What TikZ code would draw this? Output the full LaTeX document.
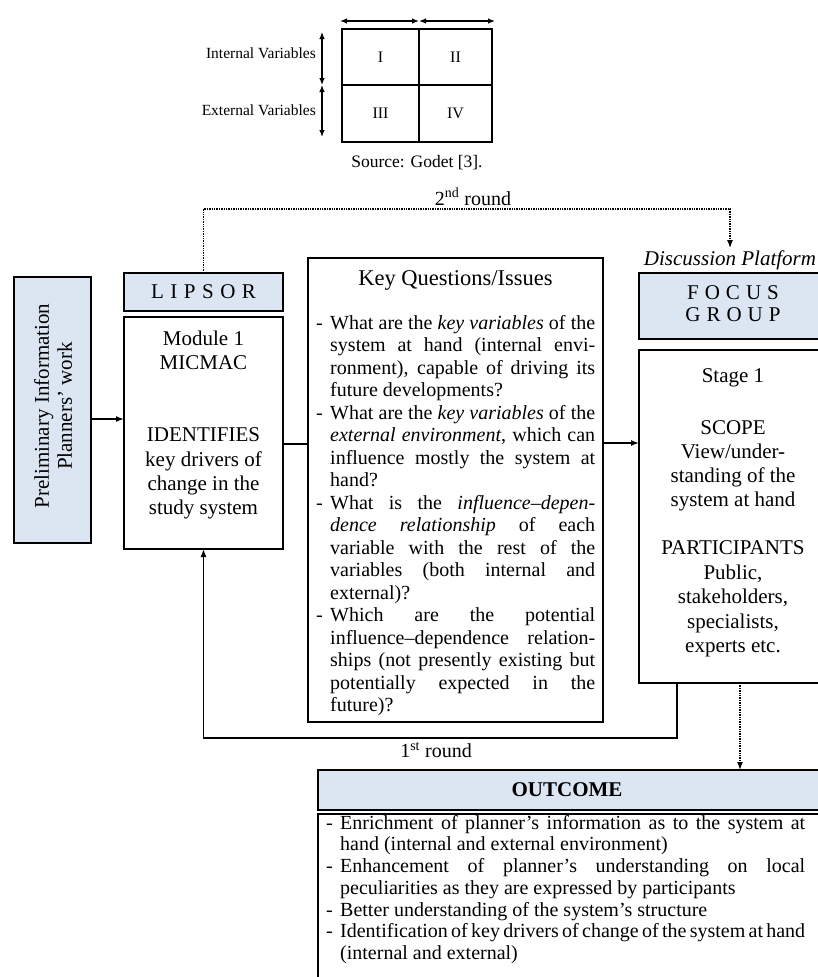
\documentclass[tikz,border=0pt]{standalone}
\usepackage{fontspec}
\setmainfont{Liberation Serif}
\usetikzlibrary{arrows.meta}

\definecolor{boxblue}{RGB}{220,230,242}

% justified question lines with a hanging dash
\newlength\qw \setlength\qw{265pt}
\newcommand\qfirst[1]{\makebox[14pt][l]{-}\makebox[\qw][s]{\strut #1}}
\newcommand\qjust[1]{\hspace*{14pt}\makebox[\qw][s]{\strut #1}}
\newcommand\qlast[1]{\hspace*{14pt}\strut #1}
% outcome list lines
\newlength\ow \setlength\ow{465pt}
\newcommand\ofirst[1]{\makebox[14pt][l]{-}\makebox[\ow][s]{\strut #1}}
\newcommand\oplain[1]{\makebox[14pt][l]{-}\strut #1}
\newcommand\olast[1]{\hspace*{14pt}\strut #1}
\newcommand\tsp{\hspace{2pt plus 1fil}}

\tikzset{
  box/.style={draw, line width=1.5pt, inner sep=0pt, outer sep=0pt, anchor=north west},
  bluebox/.style={box, fill=boxblue},
  cell/.style={draw, line width=1.3pt, inner sep=0pt, outer sep=0pt, anchor=north west,
               font=\fontsize{16}{18}\selectfont},
  txt/.style={inner sep=0pt, align=center},
  arr/.style={line width=1.5pt, -{Latex[length=8pt,width=6pt]}},
  dotarr/.style={line width=1.4pt, densely dotted, -{Latex[length=8pt,width=6pt]}},
  dbl/.style={line width=1.2pt, {Latex[length=7pt,width=5.5pt]}-{Latex[length=7pt,width=5.5pt]}},
}

\begin{document}
\begin{tikzpicture}[x=1pt,y=-1pt]
\useasboundingbox (0,0) rectangle (818,977);
\clip (0,0) rectangle (818,977);

% ---- quadrant matrix of variables ----
\node[cell, minimum width=77pt, minimum height=56pt] (q1) at (342,29) {I};
\node[cell, minimum width=73pt, minimum height=56pt] (q2) at (419,29) {II};
\node[cell, minimum width=77pt, minimum height=57pt] (q3) at (342,85) {III};
\node[cell, minimum width=73pt, minimum height=57pt] (q4) at (419,85) {IV};
\draw[dbl] ([shift={(-2pt,8pt)}]q1.north west) -- ([yshift=8pt]q1.north east);
\draw[dbl] ([yshift=8pt]q2.north west) -- ([shift={(3pt,8pt)}]q2.north east);
\draw[dbl] ([shift={(-20pt,-3pt)}]q1.north west) -- ([xshift=-20pt]q1.south west);
\draw[dbl] ([xshift=-20pt]q3.north west) -- ([shift={(-20pt,5pt)}]q3.south west);
\node[txt, anchor=east, font=\fontsize{15.5}{18}\selectfont] (intv) at (316,53) {Internal Variables};
\node[txt, anchor=east, font=\fontsize{15.5}{18}\selectfont] (extv) at (316,110) {External Variables};
\node[txt, font=\fontsize{17.5}{20}\selectfont] (src) at (417,163) {Source: Godet [3].};

% ---- main boxes ----
\node[bluebox, minimum width=77pt, minimum height=266pt] (prelim) at (14,277) {};
\node[bluebox, minimum width=159pt, minimum height=38pt] (lipsor) at (124,273) {};
\node[box, minimum width=159pt, minimum height=232pt] (module) at (124,317) {};
\node[box, minimum width=295pt, minimum height=464pt] (key) at (308,258) {};
\node[bluebox, minimum width=202pt, minimum height=66pt] (focus) at (639,273) {};
\node[box, minimum width=202pt, minimum height=333pt] (stage) at (639,350) {};
\node[bluebox, minimum width=510pt, minimum height=40pt] (outhead) at (318,770) {};
\node[box, minimum width=510pt, minimum height=200pt] (outbody) at (318,814) {};

% ---- texts ----
\node[txt, rotate=90, font=\fontsize{21}{23}\selectfont] (prelimtxt) at (53,406)
  {Preliminary Information\\Planners’ work};
\node[txt, font=\fontsize{21}{24}\selectfont] (lipsortxt) at (203.5,292)
  {L\hspace{6.5pt}I\hspace{6.5pt}P\hspace{6.5pt}S\hspace{6.5pt}O\hspace{6.5pt}R};
\node[txt, font=\fontsize{21}{23.5}\selectfont] (modtop) at (203.5,350.5) {Module 1\\MICMAC};
\node[txt, font=\fontsize{21}{24.3}\selectfont] (modtxt) at (203.5,473.5)
  {IDENTIFIES\\key drivers of\\change in the\\study system};

\node[txt, font=\fontsize{22.5}{25}\selectfont] (keytitle) at (455.5,280) {Key Questions/Issues};
\node[txt, align=left, anchor=west, font=\fontsize{20}{22.47}\selectfont] (keylist) at (316,516) {%
\qfirst{What are the \textit{key variables} of the}\\
\qjust{system at hand (internal envi-}\\
\qjust{ronment), capable of driving its}\\
\qlast{future developments?}\\
\qfirst{What are the \textit{key variables} of the}\\
\qjust{\textit{external environment}, which can}\\
\qjust{influence mostly the system at}\\
\qlast{hand?}\\
\qfirst{What is the \textit{influence–depen-}}\\
\qjust{\textit{dence relationship} of each}\\
\qjust{variable with the rest of the}\\
\qjust{variables (both internal and}\\
\qlast{external)?}\\
\qfirst{Which are the potential}\\
\qjust{influence–dependence relation-}\\
\qjust{ships (not presently existing but}\\
\qjust{potentially expected in the}\\
\qlast{future)?}};

\node[txt, inner sep=2pt, font=\itshape\fontsize{21}{24}\selectfont] (disc) at (730,260) {Discussion Platform};
\node[txt, font=\fontsize{21}{22}\selectfont] (focustxt) at (733,304)
  {F\hspace{6pt}O\hspace{6pt}C\hspace{6pt}U\hspace{6pt}S\\G\hspace{6pt}R\hspace{6pt}O\hspace{6pt}U\hspace{6pt}P};
\node[txt, font=\fontsize{21}{24}\selectfont] (stage1) at (733,378) {Stage 1};
\node[txt, font=\fontsize{21}{24}\selectfont] (scope) at (733,466)
  {SCOPE\\View/under-\\standing of the\\system at hand};
\node[txt, font=\fontsize{21}{24.5}\selectfont] (partic) at (733,599)
  {PARTICIPANTS\\Public,\\stakeholders,\\specialists,\\experts etc.};

\node[txt, font=\bfseries\fontsize{21}{22}\selectfont] (outtitle) at (567,790) {OUTCOME};
\node[txt, align=left, anchor=west, font=\fontsize{20}{21.7}\selectfont] (outlist) at (326,890) {%
\ofirst{Enrichment of planner’s information as to the system at}\\
\olast{hand (internal and external environment)}\\
\ofirst{Enhancement of planner’s understanding on local}\\
\olast{peculiarities as they are expressed by participants}\\
\oplain{Better understanding of the system’s structure}\\
\ofirst{Identification\tsp of\tsp key\tsp drivers\tsp of\tsp change\tsp of\tsp the\tsp system\tsp at\tsp hand}\\
\olast{(internal and external)}};

% ---- connectors ----
\path ([yshift=-9pt]prelim.east) coordinate (pa);
\draw[arr] (pa) -- (pa -| module.west);
\path ([yshift=-11pt]module.east) coordinate (mk);
\draw[line width=1.5pt] (mk) -- (mk -| key.west);
\path ([yshift=47pt]key.east) coordinate (ks);
\draw[arr] (ks) -- (ks -| stage.west);

% second round (dotted feedback to the discussion platform)
\coordinate (r2) at (470,209);
\draw[dotarr] (lipsor.north) |- (r2) -| (disc.north);
\node[txt, font=\fontsize{20}{22}\selectfont] (r2lbl) at (473,197) {2\textsuperscript{nd} round};

% first round (back to the module)
\coordinate (r1) at (437,738);
\draw[arr] ([xshift=-63pt]stage.south) |- (r1) -| (module.south);
\node[txt, font=\fontsize{20}{22}\selectfont] (r1lbl) at (436,750) {1\textsuperscript{st} round};

% to the outcome
\draw[dotarr] (stage.south) -- (stage.south |- outhead.north);
\end{tikzpicture}
\end{document}
